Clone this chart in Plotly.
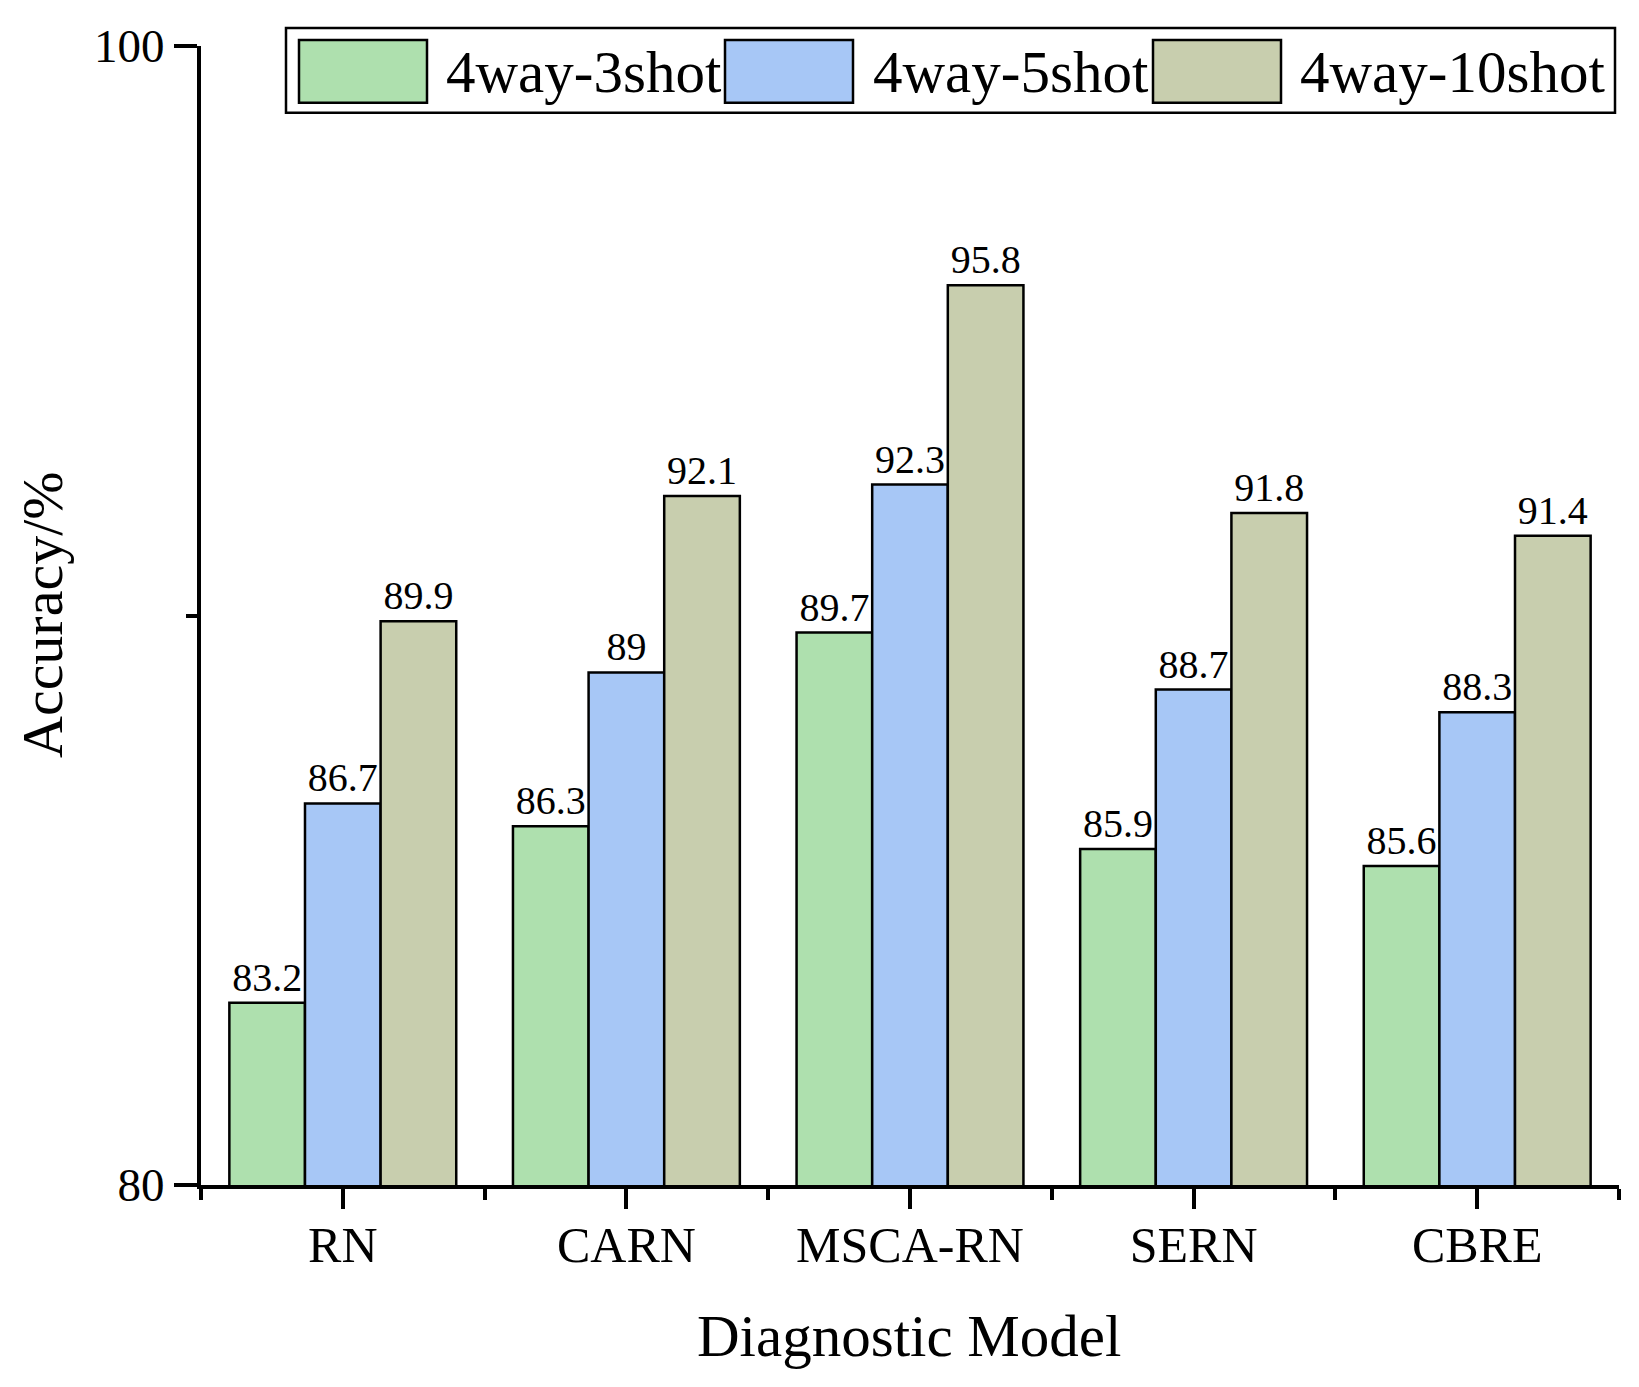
import plotly.graph_objects as go

categories = ["RN", "CARN", "MSCA-RN", "SERN", "CBRE"]
series_names = ["4way-3shot", "4way-5shot", "4way-10shot"]
acc_3shot = [83.2, 86.3, 89.7, 85.9, 85.6]
acc_5shot = [86.7, 89.0, 92.3, 88.7, 88.3]
acc_10shot = [89.9, 92.1, 95.8, 91.8, 91.4]
y_tick_vals = [80, 100]
y_tick_text = ["80", "100"]

colors = ["#AEE0AE", "#A7C7F6", "#C8CEAE"]
FONT = "Liberation Serif, Times New Roman, serif"

OFF = 8  # page body margin offset
W, H = 1639 - OFF, 1387 - OFF
L, R, T, B = 201 - OFF, 1619 - OFF, 40 - OFF, 1185 - OFF  # plot area in pixels


def px(x):
    return (x - OFF - L) / (R - L)


def py(y):
    return (B - (y - OFF)) / (B - T)


xpos = list(range(len(categories)))
fig = go.Figure()
for name, vals, col in zip(series_names, [acc_3shot, acc_5shot, acc_10shot], colors):
    fig.add_trace(go.Bar(
        x=xpos, y=vals, name=name,
        marker=dict(color=col, line=dict(color="black", width=2.5)),
        texttemplate="%{y}", textposition="outside",
        textfont=dict(family=FONT, size=40, color="black"),
        cliponaxis=False, showlegend=False,
    ))

fig.update_layout(
    width=W, height=H,
    margin=dict(l=L, r=W - R, t=T, b=H - B),
    paper_bgcolor="white", plot_bgcolor="white",
    barmode="group", bargap=0.2, bargroupgap=0,
    font=dict(family=FONT, color="black"),
)
fig.update_xaxes(
    range=[-0.5, 4.5], tickmode="array", tickvals=xpos, ticktext=categories,
    tickfont=dict(family=FONT, size=50, color="black"),
    showline=True, linecolor="black", linewidth=4,
    ticks="outside", ticklen=20, tickwidth=4, tickcolor="black",
    ticklabelstandoff=-7,
    minor=dict(tickmode="array", tickvals=[-0.5, 0.5, 1.5, 2.5, 3.5, 4.5],
               ticks="outside", ticklen=11, tickwidth=4, tickcolor="black"),
    showgrid=False, zeroline=False, fixedrange=True,
)
fig.update_yaxes(
    range=[80, 100], tickmode="array", tickvals=y_tick_vals, ticktext=y_tick_text,
    tickfont=dict(family=FONT, size=47, color="black"),
    showline=True, linecolor="black", linewidth=4,
    ticks="outside", ticklen=23, tickwidth=4, tickcolor="black",
    minor=dict(tickmode="array", tickvals=[90],
               ticks="outside", ticklen=11, tickwidth=4, tickcolor="black"),
    showgrid=False, zeroline=False, fixedrange=True,
)

annotations = [
    dict(text="Diagnostic Model", x=px(909), y=py(1337), xref="paper", yref="paper",
         xanchor="center", yanchor="middle", showarrow=False,
         font=dict(family=FONT, size=59, color="black")),
    dict(text="Accuracy/%", x=px(42), y=py(612), xref="paper", yref="paper",
         xanchor="center", yanchor="middle", showarrow=False, textangle=-90,
         font=dict(family=FONT, size=58, color="black")),
]

# custom legend (large swatches as in the reference)
shapes = [dict(type="rect", xref="paper", yref="paper",
               x0=px(286), x1=px(1615), y0=py(107), y1=py(22),
               line=dict(color="black", width=2.5), fillcolor="white", layer="above")]
sw_x = [299, 725, 1153]
tx_x = [444, 871, 1298]
for name, col, sx, tx in zip(series_names, colors, sw_x, tx_x):
    shapes.append(dict(type="rect", xref="paper", yref="paper",
                       x0=px(sx), x1=px(sx + 128), y0=py(97), y1=py(34),
                       line=dict(color="black", width=2.5), fillcolor=col, layer="above"))
    annotations.append(dict(text=name, x=px(tx), y=py(66), xref="paper", yref="paper",
                            xanchor="left", yanchor="middle", showarrow=False,
                            font=dict(family=FONT, size=59, color="black")))

fig.update_layout(shapes=shapes, annotations=annotations)
fig.write_html("out.html")
